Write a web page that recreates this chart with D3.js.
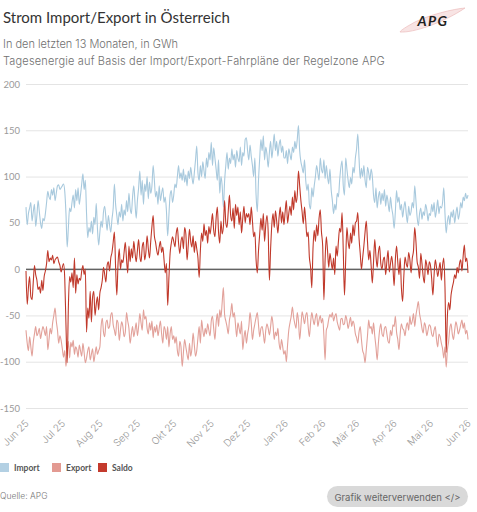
<!DOCTYPE html>
<html lang="de">
<head>
<meta charset="utf-8">
<title>Strom Import/Export in Österreich</title>
<script src="https://cdn.jsdelivr.net/npm/d3@7"></script>
<style>
  html, body { margin: 0; padding: 0; background: #fff; }
  #chart { width: 477px; height: 512px; overflow: hidden; }
  svg { display: block; font-family: Inter, 'Noto Sans', sans-serif; }
</style>
</head>
<body>
<div id="chart"></div>
<script>
/* Strom Import/Export in Österreich — daily energy (GWh) over 13 months,
   import (positive), export (negative) and the resulting saldo. */

// --- Data (daily values from 1 Jun 2025, in GWh) ---
var startDate = '2025-06-01';

var importValues = [
  // Jun 25
  67,48,60,66,72,52,62,70,46,58,74,62,50,44,55,52,60,72,84,78,75,86,80,88,74,82,90,91,86,88,
  // Jul 25
  90,92,84,60,24,45,66,62,72,80,66,86,74,88,70,80,92,103,86,96,60,34,45,40,52,38,56,48,71,44,26,
  // Aug 25
  40,52,45,62,68,55,42,58,48,40,54,66,92,70,58,48,62,56,70,52,64,58,74,62,82,66,60,78,90,72,55,
  // Sep 25
  74,88,106,80,96,70,92,84,100,76,94,82,90,112,96,78,84,70,90,74,82,88,72,78,62,36,58,80,85,72,
  // Okt 25
  80,92,88,100,112,98,104,96,108,94,102,90,106,98,110,100,92,104,118,133,104,96,112,100,116,106,98,120,110,126,118,
  // Nov 25
  137,112,131,120,108,96,118,82,100,90,67,95,112,126,108,120,114,130,118,124,110,128,120,116,132,112,126,122,140,142,
  // Dez 25
  128,118,134,122,112,100,120,80,62,96,120,140,128,144,118,132,124,110,126,138,120,132,146,128,138,122,134,140,126,133,120,
  // Jan 26
  120,128,114,130,124,118,132,126,138,130,140,155,128,116,110,104,118,96,85,92,70,65,88,78,90,100,112,104,96,120,108,
  // Feb 26
  104,118,98,112,100,92,108,86,74,60,70,64,82,78,96,110,117,90,80,120,108,96,88,99,92,110,104,120,
  // Mär 26
  130,146,120,98,109,100,112,96,88,110,104,96,108,100,80,72,88,66,78,84,70,82,74,86,68,80,72,62,78,66,58,
  // Apr 26
  44,62,85,72,78,64,70,56,66,73,60,50,68,58,62,72,66,90,74,56,47,60,66,54,62,58,70,64,52,60,
  // Mai 26 + 1 Jun 26
  58,70,62,72,56,64,75,60,68,66,72,88,60,39,52,58,48,62,56,64,50,60,67,54,60,72,66,78,74,82,76,80
];

var exportValues = [
  // Jun 25
  -66,-80,-88,-73,-84,-94,-79,-70,-62,-72,-69,-64,-75,-68,-62,-66,-72,-62,-87,-76,-64,-70,-58,-50,-42,-56,-66,-80,-72,-77,
  // Jul 25
  -86,-95,-88,-105,-90,-78,-96,-79,-84,-77,-92,-84,-87,-95,-82,-88,-94,-80,-90,-101,-96,-88,-84,-98,-92,-86,-100,-92,-84,-92,-88,
  // Aug 25
  -84,-62,-53,-68,-73,-58,-55,-64,-62,-50,-47,-60,-66,-72,-55,-58,-77,-66,-57,-62,-73,-68,-47,-56,-64,-80,-70,-62,-73,-66,-58,
  // Sep 25
  -72,-62,-48,-58,-66,-44,-54,-51,-64,-70,-58,-66,-56,-74,-62,-68,-60,-72,-64,-56,-70,-80,-62,-66,-76,-62,-84,-70,-62,-76,
  // Okt 25
  -72,-80,-73,-88,-94,-78,-84,-105,-90,-76,-84,-92,-98,-80,-94,-86,-69,-82,-94,-88,-74,-62,-80,-55,-66,-73,-64,-70,-59,-66,-72,
  // Nov 25
  -56,-51,-64,-76,-58,-48,-62,-44,-52,-36,-20,-49,-56,-62,-70,-55,-48,-37,-52,-47,-60,-73,-58,-64,-70,-56,-87,-74,-66,-80,
  // Dez 25
  -70,-62,-47,-58,-76,-66,-59,-52,-47,-60,-73,-64,-62,-70,-80,-66,-59,-64,-71,-62,-51,-60,-76,-68,-72,-64,-80,-87,-76,-84,-92,
  // Jan 26
  -88,-100,-82,-66,-58,-51,-41,-52,-59,-64,-47,-56,-76,-62,-46,-52,-59,-50,-47,-62,-73,-58,-47,-54,-60,-52,-48,-62,-55,-50,-58,
  // Feb 26
  -53,-72,-98,-66,-62,-54,-49,-52,-47,-56,-51,-48,-57,-62,-66,-54,-53,-60,-59,-50,-55,-64,-58,-52,-62,-56,-60,-70,
  // Mär 26
  -74,-80,-68,-62,-76,-88,-92,-101,-87,-72,-55,-64,-62,-70,-58,-72,-84,-98,-80,-66,-59,-70,-73,-64,-62,-70,-78,-80,-66,-72,-60,
  // Apr 26
  -62,-51,-68,-76,-87,-70,-59,-64,-66,-72,-62,-58,-66,-51,-60,-56,-48,-62,-50,-42,-35,-48,-55,-64,-69,-58,-62,-72,-66,-60,
  // Mai 26 + 1 Jun 26
  -62,-70,-73,-66,-62,-76,-84,-70,-73,-80,-86,-96,-84,-106,-87,-78,-64,-59,-70,-76,-66,-57,-62,-70,-66,-60,-55,-64,-58,-70,-66,-76
];

var saldoValues = [
  // Jun 25
  -2,-38,-20,-8,-30,-33,-14,4,-6,-12,-22,-19,-26,-12,-23,-8,-2,6,20,8,12,10,15,6,10,12,13,8,4,-3,
  // Jul 25
  2,6,-10,-60,-101,-40,-8,-14,-4,-20,12,-26,-6,-16,-10,-12,-2,4,-6,0,-68,-42,-53,-24,-57,-30,-24,-50,-38,-30,-44,
  // Aug 25
  -26,-20,-12,2,-6,-14,4,8,-2,12,18,29,40,2,-28,6,22,0,10,7,18,29,11,-4,25,8,22,12,30,18,8,
  // Sep 25
  20,32,14,8,24,29,10,18,36,22,12,30,46,58,36,29,20,15,24,30,18,24,10,-4,6,-39,-10,17,28,35,
  // Okt 25
  30,24,38,45,28,17,30,35,22,45,38,10,26,43,30,24,36,18,30,22,12,-9,20,39,30,49,36,42,28,46,38,
  // Nov 25
  48,60,42,35,55,67,40,28,52,38,46,74,50,45,62,80,58,52,66,44,70,58,67,48,62,39,55,68,50,60,
  // Dez 25
  56,60,48,67,52,35,40,10,-4,20,38,55,42,60,30,48,58,40,-12,22,48,60,45,63,52,39,56,67,50,62,48,
  // Jan 26
  62,74,50,60,68,58,78,64,85,72,80,106,90,74,62,49,67,52,35,40,13,2,-20,22,42,30,48,36,55,64,40,
  // Feb 26
  25,-33,10,35,20,2,17,8,0,12,-6,25,14,30,44,40,61,20,-28,10,45,30,22,39,28,48,36,50,
  // Mär 26
  52,61,34,17,0,12,25,40,52,30,10,20,4,-15,8,32,14,2,18,25,6,0,10,13,-6,8,20,-3,6,14,2,
  // Apr 26
  -18,10,25,8,-6,12,-20,-35,-8,13,6,2,18,10,-4,12,20,45,30,8,2,-10,17,6,-8,-15,10,4,-6,8,
  // Mai 26 + 1 Jun 26
  4,-10,-28,-6,10,2,-8,0,7,-12,4,12,-20,-90,-50,-36,-44,-28,-20,-14,-6,-10,2,-4,6,10,-2,14,26,8,12,-4
];

var seriesNames = ['Import', 'Export', 'Saldo'];
var yTicks = [-150, -100, -50, 0, 50, 100, 150, 200];
var monthLabels = ['Jun 25', 'Jul 25', 'Aug 25', 'Sep 25', 'Okt 25', 'Nov 25', 'Dez 25',
                   'Jan 26', 'Feb 26', 'Mär 26', 'Apr 26', 'Mai 26', 'Jun 26'];

(function () {
  'use strict';

  var container = document.getElementById('chart');
  var width = 477, height = 512;

  // --- Colors ---
  var c = {
    title:   '#333333',
    sub:     '#707070',
    tick:    '#9a9a9a',
    grid:    '#e4e4e4',
    zero:    '#5a5a5a',
    legend:  '#555555',
    series:  { Import: '#a8c9dd', Export: '#e2a19a', Saldo: '#c0392b' },
    swatch:  { Import: '#b3d0e3', Export: '#e39a92', Saldo: '#c43a2d' }
  };

  // --- Plot area ---
  var plot = { left: 26, right: 468, top: 84, bottom: 408 };

  var start = d3.timeParse('%Y-%m-%d')(startDate);
  var dates = importValues.map(function (v, i) { return d3.timeDay.offset(start, i); });

  var series = [
    { name: 'Import', values: importValues },
    { name: 'Export', values: exportValues },
    { name: 'Saldo',  values: saldoValues }
  ];

  var x = d3.scaleTime()
    .domain([start, dates[dates.length - 1]])
    .range([plot.left, plot.right]);

  var y = d3.scaleLinear()
    .domain([yTicks[0], yTicks[yTicks.length - 1]])
    .range([plot.bottom, plot.top]);

  var svg = d3.select(container)
    .append('svg')
    .attr('width', width)
    .attr('height', height)
    .attr('viewBox', '0 0 ' + width + ' ' + height);

  // --- Header ---
  svg.append('text')
    .attr('x', 3).attr('y', 23)
    .attr('font-family', 'Lato, sans-serif')
    .attr('font-size', '15px')
    .attr('fill', c.title)
    .text('Strom Import/Export in Österreich');

  svg.append('text')
    .attr('x', 3).attr('y', 48)
    .attr('font-size', '11px')
    .attr('font-weight', 300)
    .attr('fill', c.sub)
    .text('In den letzten 13 Monaten, in GWh');

  svg.append('text')
    .attr('x', 3).attr('y', 65)
    .attr('font-size', '11px')
    .attr('font-weight', 300)
    .attr('letter-spacing', '0.17px')
    .attr('fill', c.sub)
    .text('Tagesenergie auf Basis der Import/Export-Fahrpläne der Regelzone APG');

  // APG logo (thin swoosh + lettering)
  var logo = svg.append('g').attr('transform', 'translate(433,21)');
  logo.append('path')
    .attr('d', 'M-33,11 C-20,12 10,2 32,-13 C20,-12 -4,-6 -18,1 C-27,6 -32,9 -33,11 Z')
    .attr('fill', '#f8e4e4')
    .attr('stroke', '#ecbcbc')
    .attr('stroke-width', 0.7);
  logo.append('text')
    .attr('x', 0).attr('y', 5)
    .attr('text-anchor', 'middle')
    .attr('font-family', 'Lato, sans-serif')
    .attr('font-size', '14px')
    .attr('font-weight', 700)
    .attr('font-style', 'italic')
    .attr('letter-spacing', '1.5px')
    .attr('fill', '#1e1e1e')
    .text('APG');

  // --- Y axis + gridlines ---
  var yAxis = svg.append('g')
    .attr('transform', 'translate(' + plot.left + ',0)')
    .call(d3.axisLeft(y)
      .tickValues(yTicks)
      .tickSize(-(plot.right - plot.left))
      .tickPadding(6)
      .tickFormat(function (d) { return String(d); }));

  yAxis.select('.domain').remove();
  yAxis.selectAll('.tick line')
    .attr('stroke', function (d) { return d === 0 ? c.zero : c.grid; })
    .attr('stroke-width', 1);
  yAxis.selectAll('.tick text')
    .attr('font-family', 'Lato, sans-serif')
    .attr('font-size', '9.5px')
    .attr('fill', c.tick);

  // --- X axis (rotated month labels) ---
  var monthTicks = d3.timeMonth.range(start, d3.timeDay.offset(dates[dates.length - 1], 1));

  var xAxis = svg.append('g')
    .attr('transform', 'translate(0,' + plot.bottom + ')')
    .call(d3.axisBottom(x)
      .tickValues(monthTicks)
      .tickSize(0)
      .tickFormat(function (d, i) { return monthLabels[i]; }));

  xAxis.select('.domain').remove();
  xAxis.selectAll('.tick text')
    .attr('x', 0).attr('y', 0).attr('dy', 0)
    .attr('text-anchor', 'end')
    .attr('transform', 'translate(3,16) rotate(-45)')
    .attr('font-family', 'Inter, sans-serif')
    .attr('font-size', '10px')
    .attr('font-weight', 300)
    .attr('fill', c.tick);

  // zero line drawn above the gridlines
  svg.append('line')
    .attr('x1', plot.left).attr('x2', plot.right)
    .attr('y1', y(0)).attr('y2', y(0))
    .attr('stroke', c.zero)
    .attr('stroke-width', 1);

  // --- Lines ---
  var line = d3.line()
    .x(function (d, i) { return x(dates[i]); })
    .y(function (d) { return y(d); })
    .curve(d3.curveMonotoneX);

  svg.append('g')
    .attr('fill', 'none')
    .selectAll('path')
    .data(series)
    .join('path')
    .attr('d', function (s) { return line(s.values); })
    .attr('stroke', function (s) { return c.series[s.name]; })
    .attr('stroke-width', 1.1)
    .attr('stroke-linejoin', 'round');

  // --- Legend ---
  var legendX = [0, 52, 98];
  var legend = svg.append('g')
    .selectAll('g')
    .data(seriesNames)
    .join('g')
    .attr('transform', function (d, i) { return 'translate(' + legendX[i] + ',463)'; });

  legend.append('rect')
    .attr('width', 9).attr('height', 9)
    .attr('fill', function (d) { return c.swatch[d]; });

  legend.append('text')
    .attr('x', 14).attr('y', 8)
    .attr('font-family', 'Lato, sans-serif')
    .attr('font-size', '8.5px')
    .attr('font-weight', 700)
    .attr('fill', c.legend)
    .text(function (d) { return d; });

  // --- Footer ---
  svg.append('text')
    .attr('x', 0).attr('y', 499)
    .attr('font-size', '8.5px')
    .attr('font-weight', 300)
    .attr('fill', '#777')
    .text('Quelle: APG');

  var btn = svg.append('g').attr('transform', 'translate(327,486)');
  btn.append('rect')
    .attr('width', 141).attr('height', 21)
    .attr('rx', 10.5)
    .attr('fill', '#d9d9d9');
  btn.append('text')
    .attr('x', 70.5).attr('y', 14.5)
    .attr('text-anchor', 'middle')
    .attr('font-size', '9.5px')
    .attr('fill', '#666')
    .text('Grafik weiterverwenden </>');
})();
</script>
</body>
</html>
